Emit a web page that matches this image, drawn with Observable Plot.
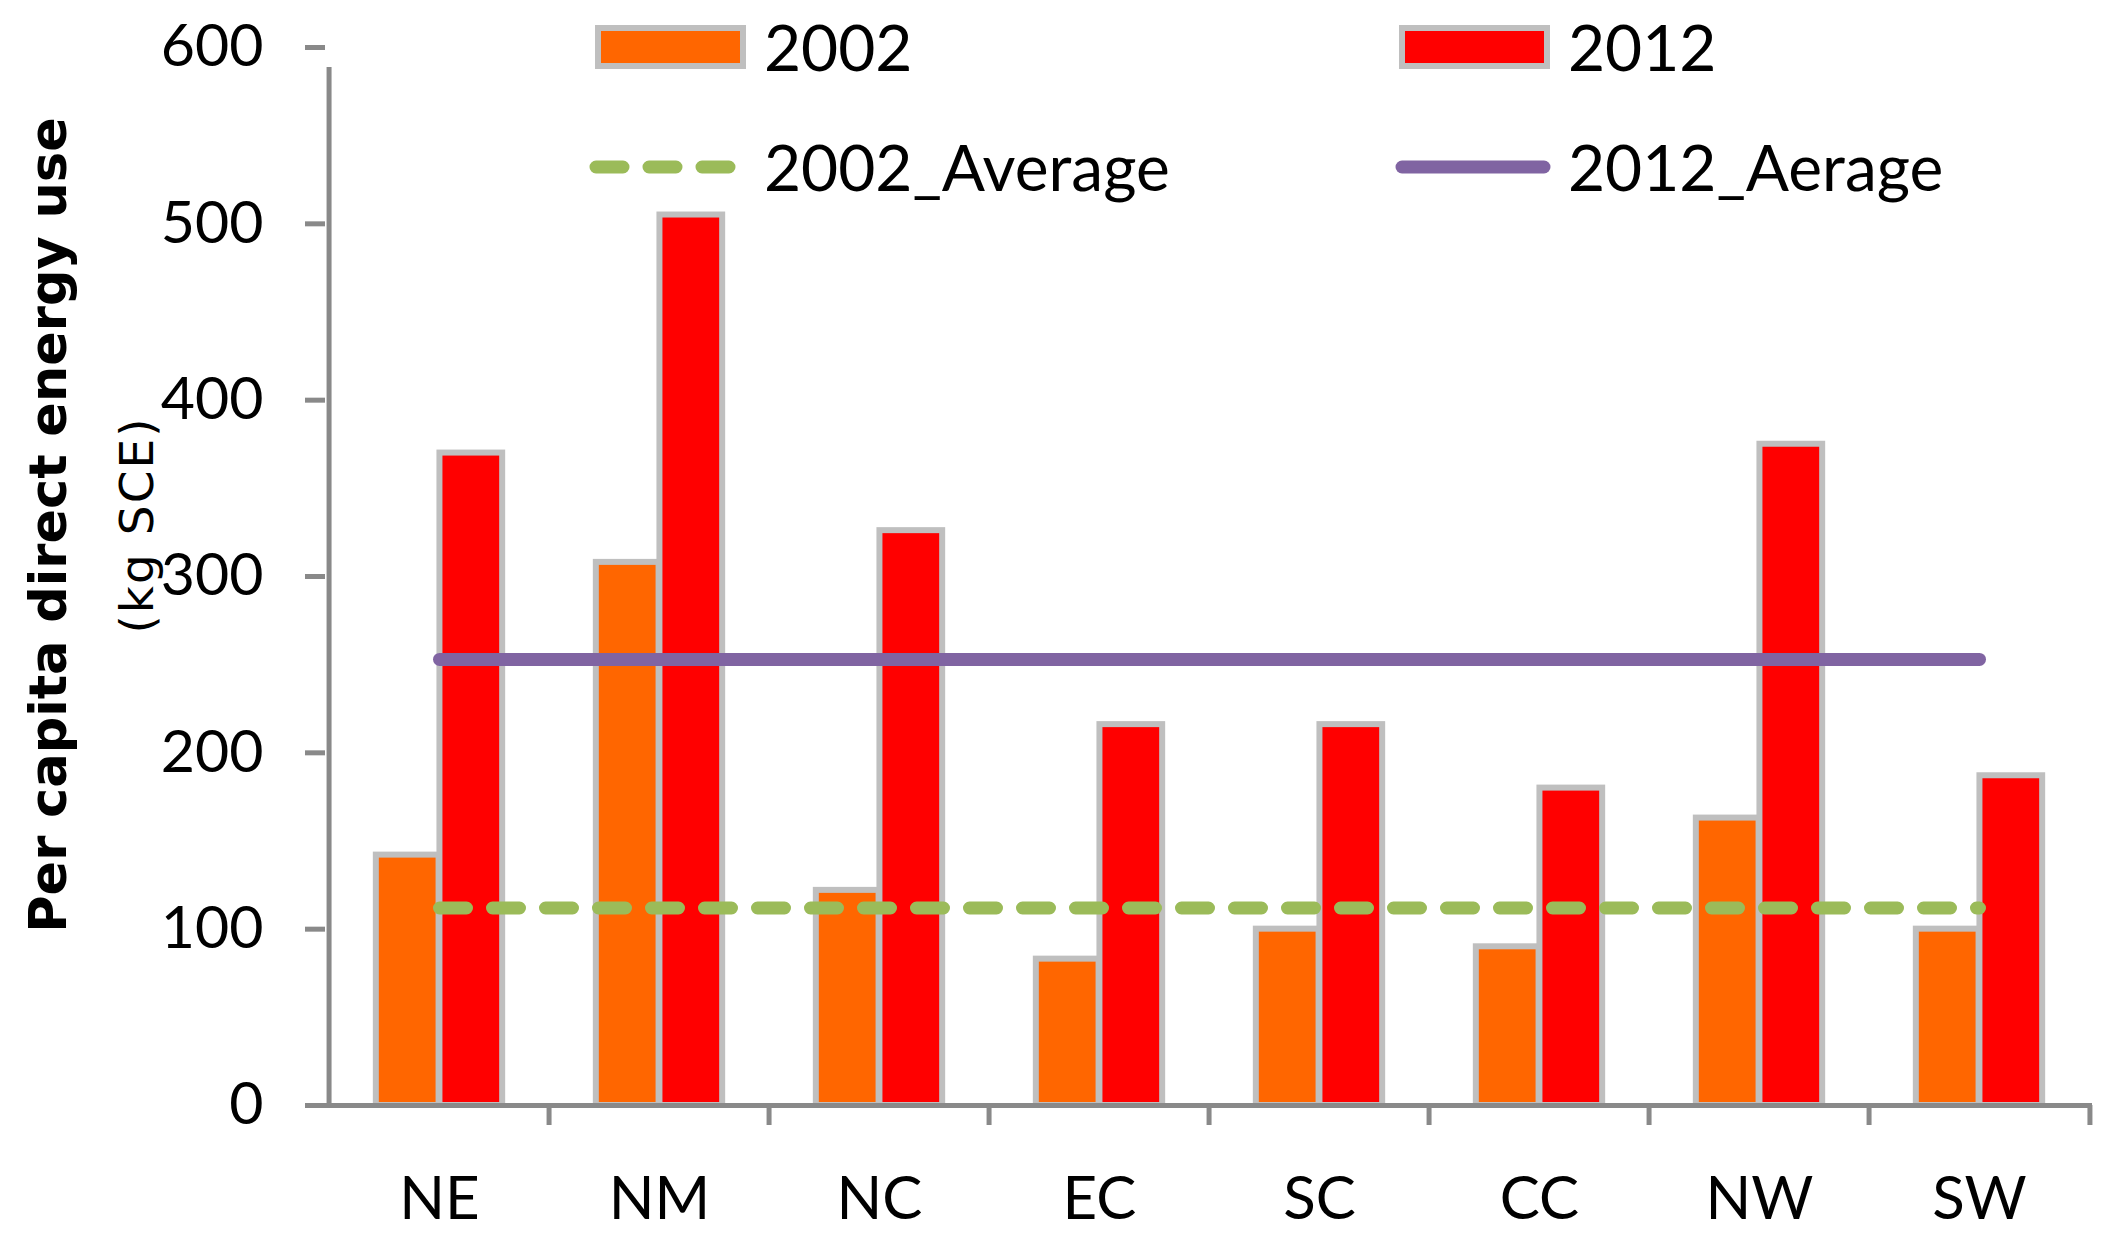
<!DOCTYPE html>
<html>
<head>
<meta charset="utf-8">
<script src="https://cdn.jsdelivr.net/npm/d3@7"></script>
<script src="https://cdn.jsdelivr.net/npm/@observablehq/plot@0.6"></script>
<style>
  html, body { margin: 0; padding: 0; background: #fff; }
  #wrap { position: relative; width: 2115px; height: 1244px; font-family: Lato, "Open Sans", sans-serif; }
  #wrap > svg.overlay { position: absolute; left: 0; top: 0; pointer-events: none; }
  #chart { position: absolute; left: 0; top: 0; }
</style>
</head>
<body>
<div id="wrap">
  <div id="chart"></div>
</div>
<script>
// ---- data ----
const regions = ["NE", "NM", "NC", "EC", "SC", "CC", "NW", "SW"];
const values2002 = [142, 308, 122, 83, 100, 90, 163, 100];
const values2012 = [370, 505, 326, 216, 216, 180, 375, 187];
const average2002 = 112;
const average2012 = 253;
const yTicks = [0, 100, 200, 300, 400, 500, 600];
const seriesNames = ["2002", "2012", "2002_Average", "2012_Aerage"];
const yTitle = "Per capita direct energy use";
const yUnit = "(kg SCE)";

// ---- style ----
const W = 2115, H = 1244;
const mL = 325, mR = 23, mT = 47, mB = 139;
const band = (W - mL - mR) / regions.length;
const c2002 = "#ff6600", c2012 = "#ff0000", cOutline = "#bfbfbf";
const cAvg02 = "#9bbb59", cAvg12 = "#8064a2", cAxis = "#898989";
const fontMain = "Lato, 'Open Sans', sans-serif";

const rows2002 = regions.map((r, i) => ({region: r, value: values2002[i]}));
const rows2012 = regions.map((r, i) => ({region: r, value: values2012[i]}));

const chart = Plot.plot({
  width: W, height: H,
  marginLeft: mL, marginRight: mR, marginTop: mT, marginBottom: mB,
  style: {fontFamily: fontMain, background: "white", overflow: "visible"},
  x: {type: "band", domain: regions, padding: 0, axis: null},
  y: {domain: [0, 600], axis: null},
  marks: [
    Plot.barY(rows2002, {x: "region", y: "value", fill: c2002, stroke: cOutline, strokeWidth: 6,
      insetLeft: band * 0.212, insetRight: band * 0.5}),
    Plot.barY(rows2012, {x: "region", y: "value", fill: c2012, stroke: cOutline, strokeWidth: 6,
      insetLeft: band * 0.5, insetRight: band * 0.212}),
    Plot.lineY(regions, {x: d => d, y: () => average2002, stroke: cAvg02, strokeWidth: 13,
      strokeDasharray: "27,26", strokeLinecap: "round"}),
    Plot.lineY(regions, {x: d => d, y: () => average2012, stroke: cAvg12, strokeWidth: 13,
      strokeLinecap: "round"}),
    // axis lines and category boundary ticks
    Plot.ruleY([0], {stroke: cAxis, strokeWidth: 5, insetLeft: -20}),
    Plot.ruleX([regions[0]], {x: d => d, y1: 0, y2: 600, dx: -band / 2, insetBottom: -20,
      stroke: cAxis, strokeWidth: 5}),
    Plot.ruleX(regions.slice(1), {x: d => d, y1: 0, y2: 0, dx: -band / 2, insetBottom: -20,
      stroke: cAxis, strokeWidth: 5}),
    Plot.ruleX([regions[regions.length - 1]], {x: d => d, y1: 0, y2: 0, dx: band / 2, insetBottom: -20,
      stroke: cAxis, strokeWidth: 5}),
    Plot.axisY(yTicks, {tickSize: 20, tickPadding: 42, stroke: cAxis, strokeWidth: 5,
      fill: "black", fontSize: 59, label: null, tickFormat: d3.format("d")}),
    Plot.axisX({tickSize: 0, tickPadding: 71, fill: "black", fontSize: 60, label: null})
  ]
});
document.getElementById("chart").appendChild(chart);

// ---- overlay: legend + y title ----
const ns = "http://www.w3.org/2000/svg";
const ov = d3.select("#wrap").append("svg").attr("class", "overlay")
  .attr("xmlns", ns).attr("width", W).attr("height", H);

// y title
ov.append("text").text(yTitle)
  .attr("transform", "translate(48,525) rotate(-90)")
  .attr("text-anchor", "middle").attr("dominant-baseline", "central")
  .attr("font-family", "'DejaVu Sans', sans-serif").attr("font-weight", "bold")
  .attr("font-size", 51).attr("fill", "black");
ov.append("text").text(yUnit)
  .attr("transform", "translate(136,525) rotate(-90)")
  .attr("text-anchor", "middle").attr("dominant-baseline", "central")
  .attr("font-family", "'DejaVu Sans', sans-serif")
  .attr("font-size", 47).attr("letter-spacing", 2).attr("fill", "black");

// legend
const legendItems = [
  {name: seriesNames[0], kind: "rect", color: c2002, x: 598, y: 47},
  {name: seriesNames[1], kind: "rect", color: c2012, x: 1402, y: 47},
  {name: seriesNames[2], kind: "dash", color: cAvg02, x: 598, y: 167},
  {name: seriesNames[3], kind: "line", color: cAvg12, x: 1404, y: 167}
];
for (const it of legendItems) {
  if (it.kind === "rect") {
    ov.append("rect").attr("x", it.x).attr("y", it.y - 19).attr("width", 145).attr("height", 38)
      .attr("fill", it.color).attr("stroke", cOutline).attr("stroke-width", 6);
  } else {
    ov.append("line").attr("x1", it.x - 2).attr("x2", it.x + 140).attr("y1", it.y).attr("y2", it.y)
      .attr("stroke", it.color).attr("stroke-width", 13).attr("stroke-linecap", "round")
      .attr("stroke-dasharray", it.kind === "dash" ? "27,26" : null);
  }
  ov.append("text").text(it.name)
    .attr("x", it.kind === "rect" ? it.x + 166 : (it.kind === "dash" ? 764 : 1568))
    .attr("y", it.y + 24)
    .attr("font-family", fontMain).attr("font-size", 64).attr("fill", "black");
}
</script>
</body>
</html>
